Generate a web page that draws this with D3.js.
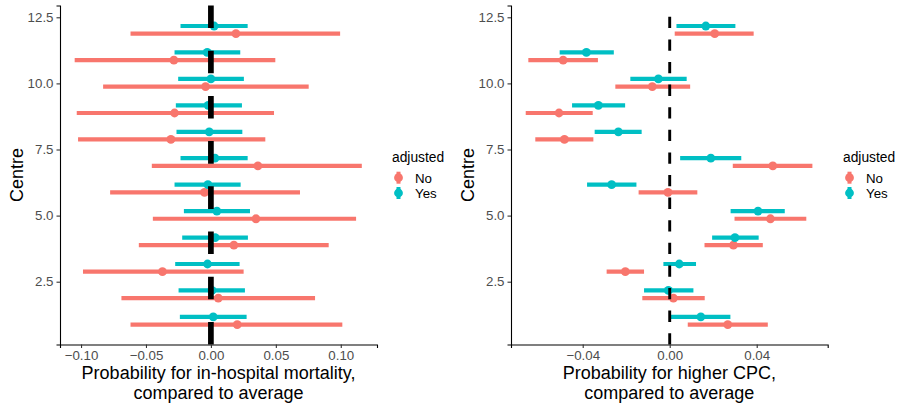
<!DOCTYPE html>
<html>
<head>
<meta charset="utf-8">
<script src="https://cdn.jsdelivr.net/npm/d3@7"></script>
<style>
  html, body { margin: 0; padding: 0; background: #fff; }
  svg { display: block; font-family: "Liberation Sans", Arial, sans-serif; }
</style>
</head>
<body>
<svg id="chart" width="901" height="408"></svg>
<script>
// ---------- data ----------
const centres = [1, 2, 3, 4, 5, 6, 7, 8, 9, 10, 11, 12];
const groups = ["No", "Yes"];
const groupColors = ["#F8766D", "#00BFC4"];
const yTicks = [2.5, 5.0, 7.5, 10.0, 12.5];

// In-hospital mortality
const mortNo    = [0.0203, 0.0057, -0.0373, 0.0177, 0.0347, -0.0049, 0.0362, -0.0308, -0.0280, -0.0041, -0.0285, 0.0193];
const mortNoLo  = [-0.0619, -0.0689, -0.0985, -0.0555, -0.0447, -0.0776, -0.0455, -0.1023, -0.1033, -0.0830, -0.1049, -0.0619];
const mortNoHi  = [0.1012, 0.0802, 0.0252, 0.0907, 0.1118, 0.0686, 0.1162, 0.0419, 0.0486, 0.0753, 0.0496, 0.0995];
const mortYes   = [0.0018, 0.0008, -0.0026, 0.0033, 0.0046, -0.0023, 0.0031, -0.0013, -0.0021, 0.0000, -0.0028, 0.0025];
const mortYesLo = [-0.0239, -0.0249, -0.0275, -0.0221, -0.0208, -0.0280, -0.0234, -0.0265, -0.0270, -0.0252, -0.0280, -0.0234];
const mortYesHi = [0.0275, 0.0262, 0.0221, 0.0285, 0.0301, 0.0229, 0.0283, 0.0242, 0.0239, 0.0254, 0.0226, 0.0283];
const mortTicks = [-0.10, -0.05, 0.00, 0.05, 0.10];

// Higher CPC
const cpcNo    = [0.0267, 0.0017, -0.0204, 0.0293, 0.0463, -0.0008, 0.0474, -0.0484, -0.0509, -0.0080, -0.0490, 0.0207];
const cpcNoLo  = [0.0083, -0.0126, -0.0290, 0.0160, 0.0298, -0.0143, 0.0290, -0.0618, -0.0662, -0.0250, -0.0650, 0.0023];
const cpcNoHi  = [0.0451, 0.0161, -0.0118, 0.0428, 0.0628, 0.0127, 0.0656, -0.0351, -0.0354, 0.0094, -0.0330, 0.0386];
const cpcYes   = [0.0143, -0.0006, 0.0044, 0.0300, 0.0406, -0.0267, 0.0189, -0.0236, -0.0328, -0.0052, -0.0383, 0.0166];
const cpcYesLo = [0.0003, -0.0118, -0.0029, 0.0195, 0.0280, -0.0380, 0.0048, -0.0345, -0.0449, -0.0181, -0.0506, 0.0031];
const cpcYesHi = [0.0279, 0.0109, 0.0121, 0.0409, 0.0529, -0.0153, 0.0329, -0.0129, -0.0205, 0.0078, -0.0257, 0.0302];
const cpcTicks = [-0.04, 0.00, 0.04];

// ---------- drawing ----------
const svg = d3.select("#chart");
const dodge = { No: -0.12, Yes: 0.17 };

function buildRows(no, noLo, noHi, yes, yesLo, yesHi) {
  const rows = [];
  centres.forEach((c, i) => {
    rows.push({ centre: c, g: "No", v: no[i], lo: noLo[i], hi: noHi[i] });
    rows.push({ centre: c, g: "Yes", v: yes[i], lo: yesLo[i], hi: yesHi[i] });
  });
  return rows;
}

const color = d3.scaleOrdinal().domain(groups).range(groupColors);

function drawPanel(o) {
  const g = svg.append("g");
  const x = d3.scaleLinear().domain(o.xDomain).range([o.left, o.right]);
  const y = d3.scaleLinear().domain([0.125, 12.946]).range([344.5, 5.5]);

  // pointranges
  const rows = o.rows;
  const pr = g.append("g").selectAll("g").data(rows).join("g");
  pr.append("line")
    .attr("x1", d => x(d.lo)).attr("x2", d => x(d.hi))
    .attr("y1", d => y(d.centre + dodge[d.g])).attr("y2", d => y(d.centre + dodge[d.g]))
    .attr("stroke", d => color(d.g)).attr("stroke-width", 4.2);
  pr.append("circle")
    .attr("cx", d => x(d.v)).attr("cy", d => y(d.centre + dodge[d.g]))
    .attr("r", 4.4).attr("fill", d => color(d.g));

  // vertical reference line
  g.append("line")
    .attr("x1", x(0)).attr("x2", x(0))
    .attr("y1", 344.5).attr("y2", 5.5)
    .attr("stroke", "#000").attr("stroke-width", o.vlineWidth)
    .attr("stroke-dasharray", o.vlineDash);

  // axes
  const xAxis = g.append("g").attr("transform", "translate(0,344.5)")
    .call(d3.axisBottom(x).tickValues(o.xTicks).tickFormat(d3.format(".2f")).tickSizeOuter(0).tickSize(3.5).tickPadding(3));
  const yAxis = g.append("g").attr("transform", `translate(${o.left},0)`)
    .call(d3.axisLeft(y).tickValues(yTicks).tickFormat(d3.format(".1f")).tickSizeOuter(0).tickSize(3.5).tickPadding(3));
  [xAxis, yAxis].forEach(a => {
    a.select(".domain").attr("stroke", "#000").attr("stroke-width", 1.1);
    a.selectAll(".tick line").attr("stroke", "#333").attr("stroke-width", 1.1);
    a.selectAll(".tick text").attr("fill", "#4D4D4D").style("font-size", "13.3px")
      .style("font-family", '"Liberation Sans", Arial, sans-serif');
  });

  // axis titles
  const cx = (o.left + o.right) / 2;
  g.append("text").attr("x", cx).attr("y", 378.5).attr("text-anchor", "middle")
    .style("font-size", "18px").attr("fill", "#000").text(o.xTitle[0]);
  g.append("text").attr("x", cx).attr("y", 398.5).attr("text-anchor", "middle")
    .style("font-size", "18px").attr("fill", "#000").text(o.xTitle[1]);
  g.append("text").attr("transform", `translate(${o.left - 37},175) rotate(-90)`)
    .attr("text-anchor", "middle").style("font-size", "18px").attr("fill", "#000").text("Centre");

  // legend
  const lg = g.append("g").attr("transform", `translate(${o.legendX},0)`);
  lg.append("text").attr("x", 0).attr("y", 161.5).style("font-size", "13.8px").attr("fill", "#000").text("adjusted");
  groups.forEach((grp, i) => {
    const cy = 177.7 + i * 15.3;
    lg.append("line").attr("x1", 6.5).attr("x2", 6.5).attr("y1", cy - 6).attr("y2", cy + 6)
      .attr("stroke", color(grp)).attr("stroke-width", 4);
    lg.append("circle").attr("cx", 6.5).attr("cy", cy).attr("r", 4.4).attr("fill", color(grp));
    lg.append("text").attr("x", 23).attr("y", cy + 4.8).style("font-size", "13.3px").attr("fill", "#000").text(grp);
  });
}

drawPanel({
  rows: buildRows(mortNo, mortNoLo, mortNoHi, mortYes, mortYesLo, mortYesHi),
  xDomain: [-0.1162, 0.1279], left: 60, right: 377,
  xTicks: mortTicks,
  vlineWidth: 5.7, vlineDash: "22.6,22.6",
  xTitle: ["Probability for in-hospital mortality,", "compared to average"],
  legendX: 392
});

drawPanel({
  rows: buildRows(cpcNo, cpcNoLo, cpcNoHi, cpcYes, cpcYesLo, cpcYesHi),
  xDomain: [-0.07297, 0.07264], left: 511, right: 827.7,
  xTicks: cpcTicks,
  vlineWidth: 2.9, vlineDash: "11.3,11.3",
  xTitle: ["Probability for higher CPC,", "compared to average"],
  legendX: 843
});
</script>
</body>
</html>
